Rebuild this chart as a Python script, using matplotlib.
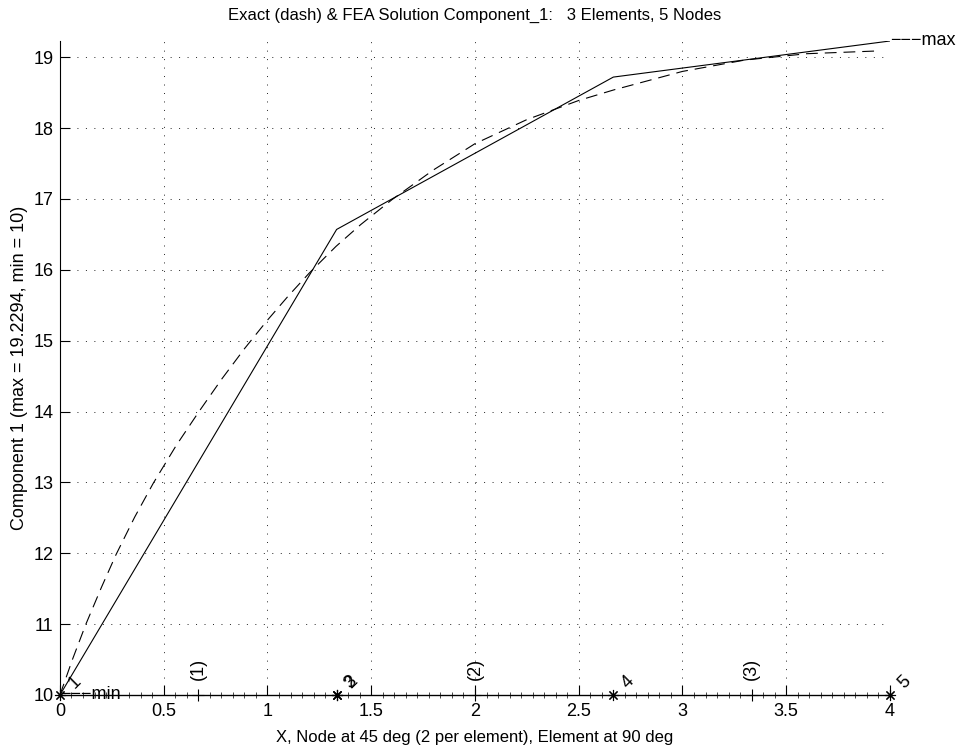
import matplotlib
matplotlib.use("Agg")
import matplotlib.pyplot as plt
from matplotlib.ticker import MultipleLocator, FormatStrFormatter

plt.rcParams['font.family'] = ['Liberation Sans', 'DejaVu Sans']
plt.rcParams['font.size'] = 12
plt.rcParams['lines.scale_dashes'] = False

# FEA solution at the element end nodes
fea_x = [0.0, 1.3333, 2.6667, 4.0]
fea_y = [10.0, 16.57, 18.72, 19.2294]

# exact solution
exact_x = [0.0, 0.06, 0.125, 0.2, 0.27, 0.36, 0.45, 0.56, 0.67, 0.78, 0.89, 1.0,
           1.1, 1.2, 1.33, 1.45, 1.6, 1.8, 2.0, 2.25, 2.5, 2.67, 3.0, 3.3, 3.6, 3.95]
exact_y = [10.0, 10.5, 11.0, 11.52, 11.98, 12.51, 12.99, 13.52, 14.0, 14.46, 14.89, 15.29,
           15.63, 15.95, 16.33, 16.64, 16.99, 17.41, 17.78, 18.12, 18.39, 18.54, 18.8, 18.96, 19.05, 19.09]

# nodes and element centres along the baseline
node_x = [0.0, 1.3333, 1.3333, 2.6667, 4.0]
node_labels = ['1', '2', '3', '4', '5']
elem_x = [0.6667, 2.0, 3.3333]
elem_labels = ['(1)', '(2)', '(3)']

y_min = 10.0
y_max = 19.2294

fig = plt.figure(figsize=(9.61, 7.48), dpi=100)
ax = fig.add_axes([0.0624, 0.0709, 0.8637, 0.8743])

ax.plot(fea_x, fea_y, color='black', lw=0.8)
ax.plot(exact_x, exact_y, color='black', lw=0.8, linestyle=(0, (8.5, 5.0)))

# baseline with nodes (*) and element centres (+)
ax.plot([node_x[0], node_x[-1]], [y_min, y_min], color='black', lw=0.9, clip_on=False)
ax.plot(node_x, [y_min] * len(node_x), linestyle='none', marker=(8, 2, 0),
        markersize=8, color='black', mew=0.8, clip_on=False)
ax.plot(elem_x, [y_min] * len(elem_x), linestyle='none', marker='+',
        markersize=9, color='black', mew=0.8, clip_on=False)

for x, lab in zip(node_x, node_labels):
    ax.text(x + 0.07, y_min + 0.18, lab, rotation=45, ha='center', va='center', fontsize=13)
for x, lab in zip(elem_x, elem_labels):
    ax.text(x, y_min + 0.21, lab, rotation=90, ha='center', va='bottom', fontsize=13)

ax.text(fea_x[-1], y_max, '\u2212\u2212\u2212max', ha='left', va='center', fontsize=13, clip_on=False)
ax.text(fea_x[0], y_min, '\u2212\u2212\u2212min', ha='left', va='center', fontsize=13, clip_on=False)

ax.set_xlim(0, 4)
ax.set_ylim(y_min, y_max)
ax.xaxis.set_major_locator(MultipleLocator(0.5))
ax.xaxis.set_minor_locator(MultipleLocator(1 / 18))
ax.yaxis.set_major_locator(MultipleLocator(1))
ax.xaxis.set_major_formatter(FormatStrFormatter('%g'))

ax.spines['top'].set_visible(False)
ax.spines['right'].set_visible(False)
ax.tick_params(which='major', direction='in', length=7, width=0.8, labelsize=13)
ax.tick_params(axis='x', which='major', pad=6)
ax.tick_params(axis='y', which='major', pad=4.5)
ax.tick_params(axis='x', which='minor', direction='inout', length=4, width=0.5)
ax.grid(True, which='major', color='black', lw=0.6, linestyle=(0, (0.7, 5.4)))

ax.set_title('Exact (dash) & FEA Solution Component_1:   3 Elements, 5 Nodes', fontsize=12, pad=15)
ax.set_xlabel('X, Node at 45 deg (2 per element), Element at 90 deg', fontsize=12, labelpad=7)
ax.set_ylabel('Component 1 (max = 19.2294, min = 10)', fontsize=13, labelpad=4)

fig.savefig('out.png', dpi=100)
